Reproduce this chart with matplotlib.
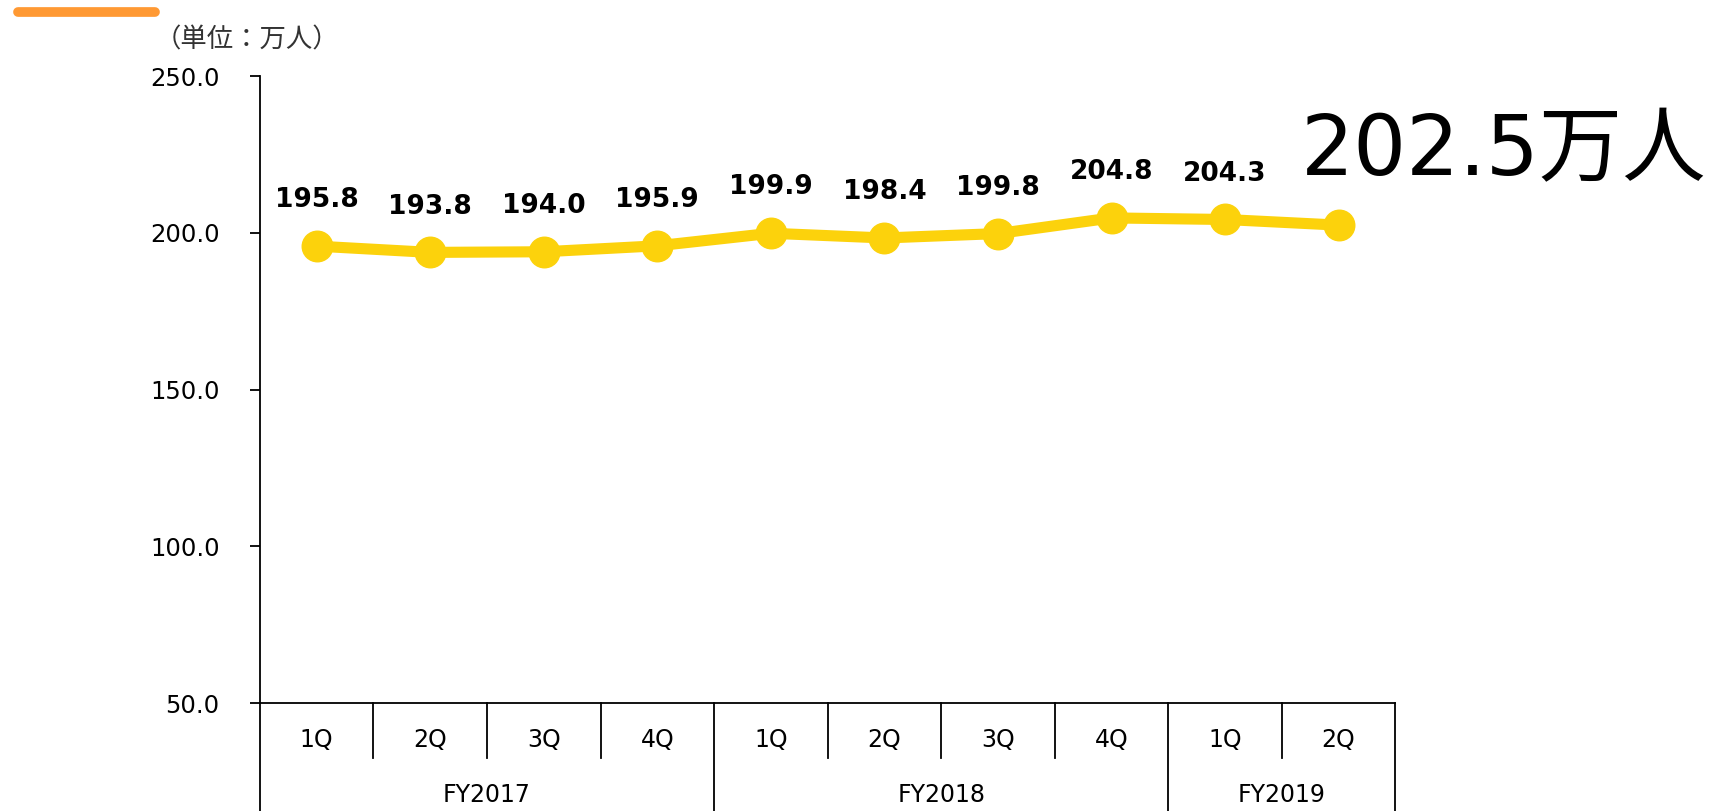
import matplotlib.pyplot as plt
from matplotlib.transforms import blended_transform_factory
from matplotlib.lines import Line2D

plt.rcParams['font.family'] = ['DejaVu Sans', 'Noto Sans CJK JP']

quarters = ['1Q', '2Q', '3Q', '4Q', '1Q', '2Q', '3Q', '4Q', '1Q', '2Q']
years = ['FY2017', 'FY2018', 'FY2019']
year_sizes = [4, 4, 2]
values = [195.8, 193.8, 194.0, 195.9, 199.9, 198.4, 199.8, 204.8, 204.3, 202.5]
latest_label = '202.5万人'
unit_label = '（単位：万人）'

fig = plt.figure(figsize=(17.1, 8.11), dpi=100)
ax = fig.add_axes([0.152, 0.133, 0.664, 0.773])

x = list(range(len(values)))
ax.plot(x, values, color='#FCD20C', lw=8, marker='o', markersize=22, solid_capstyle='round')
# the last point is shown by the big label instead
for xi, v in zip(x[:-1], values[:-1]):
    ax.annotate(f'{v:.1f}', (xi, v), xytext=(0, 33), textcoords='offset points',
                ha='center', va='center', fontsize=19, fontweight='bold')

ax.set_xlim(-0.5, len(values) - 0.5)
ax.set_ylim(50, 250)
ax.set_yticks([50, 100, 150, 200, 250])
ax.set_yticklabels([f'{t:.1f}' for t in [50, 100, 150, 200, 250]], fontsize=17.5)
ax.tick_params(axis='y', length=7, width=1.3, pad=22)
ax.set_xticks([])
for s in ['top', 'right']:
    ax.spines[s].set_visible(False)
for s in ['left', 'bottom']:
    ax.spines[s].set_linewidth(1.3)

# category axis below the plot
tr = blended_transform_factory(ax.transData, ax.transAxes)
for i, q in enumerate(quarters):
    ax.text(i, -0.059, q, transform=tr, ha='center', va='center', fontsize=17)
bounds = [-0.5]
for n in year_sizes:
    bounds.append(bounds[-1] + n)
for i in range(len(quarters) + 1):
    xb = i - 0.5
    ybot = -0.175 if xb in bounds else -0.088
    ax.add_line(Line2D([xb, xb], [0, ybot], transform=tr, color='black', lw=1.3, clip_on=False))
for j, yr in enumerate(years):
    xc = (bounds[j] + bounds[j + 1]) / 2
    ax.text(xc, -0.147, yr, transform=tr, ha='center', va='center', fontsize=17)

fig.text(0.0905, 0.951, unit_label, ha='left', va='center', fontsize=19,
         family=['Noto Sans CJK JP', 'DejaVu Sans'], color='#333333')
fig.text(0.761, 0.784, latest_label, ha='left', va='baseline', fontsize=60,
         family=['DejaVu Sans', 'Noto Sans CJK JP'])
fig.add_artist(Line2D([0.0105, 0.0905], [0.985, 0.985], transform=fig.transFigure,
                      color='#FF9933', lw=7, solid_capstyle='round'))

fig.savefig('out.png', dpi=100)
